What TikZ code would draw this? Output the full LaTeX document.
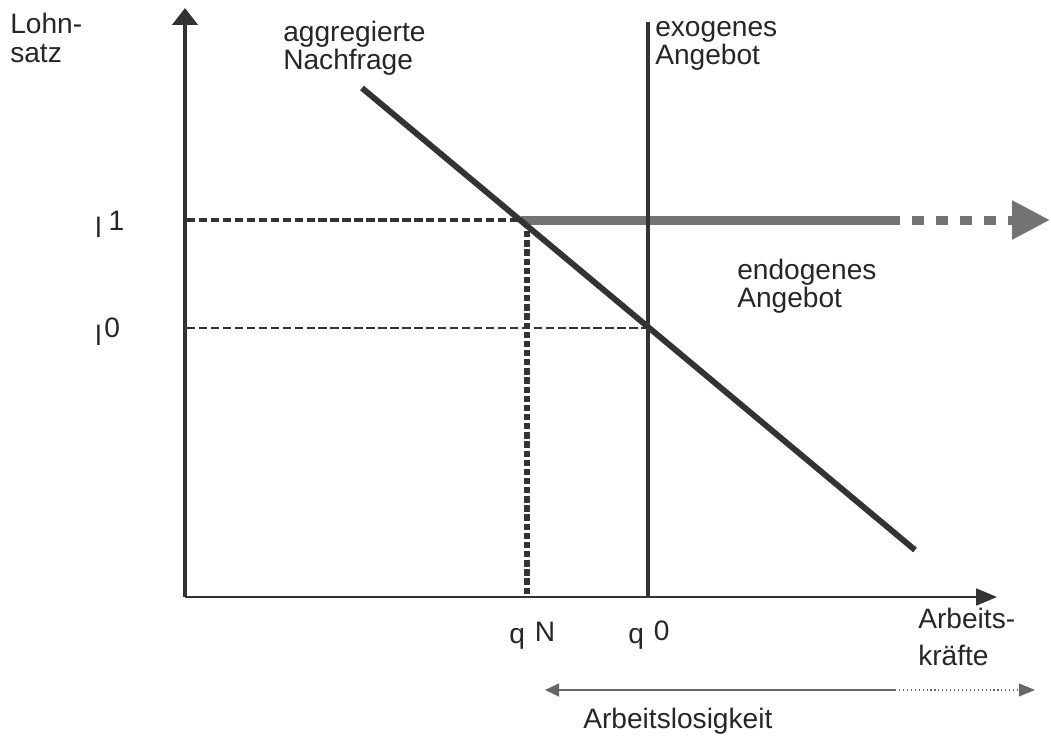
\documentclass[tikz,border=0pt]{standalone}
\usepackage{fontspec}
\setmainfont{Liberation Sans}
\usetikzlibrary{arrows.meta,positioning}

\begin{document}
\begin{tikzpicture}[
    x=0.025cm, y=-0.025cm,
    lbl/.style={inner sep=0pt, align=left, text=black!85, font=\fontsize{20}{#1}\selectfont},
    lbl/.default=17.5pt,
    axisline/.style={draw=black!80, line width=#1},
    guide/.style={draw=black!80, line width=#1, dash pattern=on 6pt off 2.5pt},
    band/.style={draw=black!55, line width=6.4pt},
    spread/.style={draw=black!60, line width=1.4pt}
  ]
    \useasboundingbox (0,0) rectangle (1051,737);

    % axes
    \coordinate (O) at (185,597);
    \coordinate (ytop) at (185,8);
    \coordinate (xend) at (997,597);
    \draw[axisline=3.2pt, -{Triangle[length=0.42cm, width=0.62cm]}] (O) -- (ytop);
    \draw[axisline=1.6pt, -{Triangle[length=0.52cm, width=0.42cm]}] (O) -- (xend);

    \node[lbl=20.5pt, anchor=north west] (lohnsatz) at (10,13) {Lohn-\\satz};
    \node[lbl=26pt, anchor=north west] (arbeitskraefte) at (918,608) {Arbeits-\\kräfte};

    % wage levels and quantities
    \coordinate (l1) at (187,220);
    \coordinate (l0) at (187,328);
    \coordinate (qN) at (527,597);
    \coordinate (q0) at (648,597);
    \coordinate (E1) at (521,220);
    \coordinate (E1b) at (527,222);
    \coordinate (E0) at (650,328);
    \coordinate (exotop) at (648,22);

    \node[lbl, anchor=base west] (labl1) at (95,237) {l\hspace{5pt}\raisebox{4.3pt}{1}};
    \node[lbl, anchor=base west] (labl0) at (95,345) {l\hspace{2pt}\raisebox{5pt}{0}};
    \node[lbl, anchor=base west] (labqN) at (509,643) {q\hspace{7pt}\raisebox{1pt}{N}};
    \node[lbl, anchor=base west] (labq0) at (628,643) {q\hspace{7pt}\raisebox{2pt}{0}};

    \draw[guide=2.8pt] (l1) -- (E1);
    \draw[guide=2.1pt] (l0) -- (E0);
    \draw[draw=black!80, line width=4pt, dash pattern=on 4.5pt off 2pt] (E1b) -- (qN);

    % endogenous supply
    \coordinate (bandmid) at (900,220);
    \coordinate (bandtip) at (1050,220);
    \draw[band] (E1) -- (bandmid);
    \draw[band, dash pattern=on 8.5pt off 8.5pt, dash phase=8.5pt,
          -{Triangle[length=0.95cm, width=0.92cm]}] (bandmid) -- (bandtip);
    \node[lbl, anchor=north west] (endogen) at (737,259) {endogenes\\Angebot};

    % exogenous supply
    \draw[axisline=2.4pt] (q0) -- (exotop);
    \node[lbl, anchor=north west] (exogen) at (655,21) {exogenes\\Angebot};

    % demand
    \coordinate (dA) at (362,88);
    \coordinate (dB) at (915,550);
    \draw[axisline=4.2pt] (dA) -- (dB);
    \node[lbl, anchor=north west] (nachfrage) at (283,21) {aggregierte\\Nachfrage};

    % unemployment
    \coordinate (uL) at (545,690);
    \coordinate (uM) at (895,690);
    \coordinate (uR) at (1035,690);
    \draw[spread, {Triangle[length=0.35cm, width=0.32cm]}-] (uL) -- (uM);
    \draw[spread, line width=0.8pt, dotted, -{Triangle[length=0.4cm, width=0.32cm]}] (uM) -- (uR);
    \node[lbl, anchor=north west] (arbeitslos) at (583,708) {Arbeitslosigkeit};
  \end{tikzpicture}
\end{document}
